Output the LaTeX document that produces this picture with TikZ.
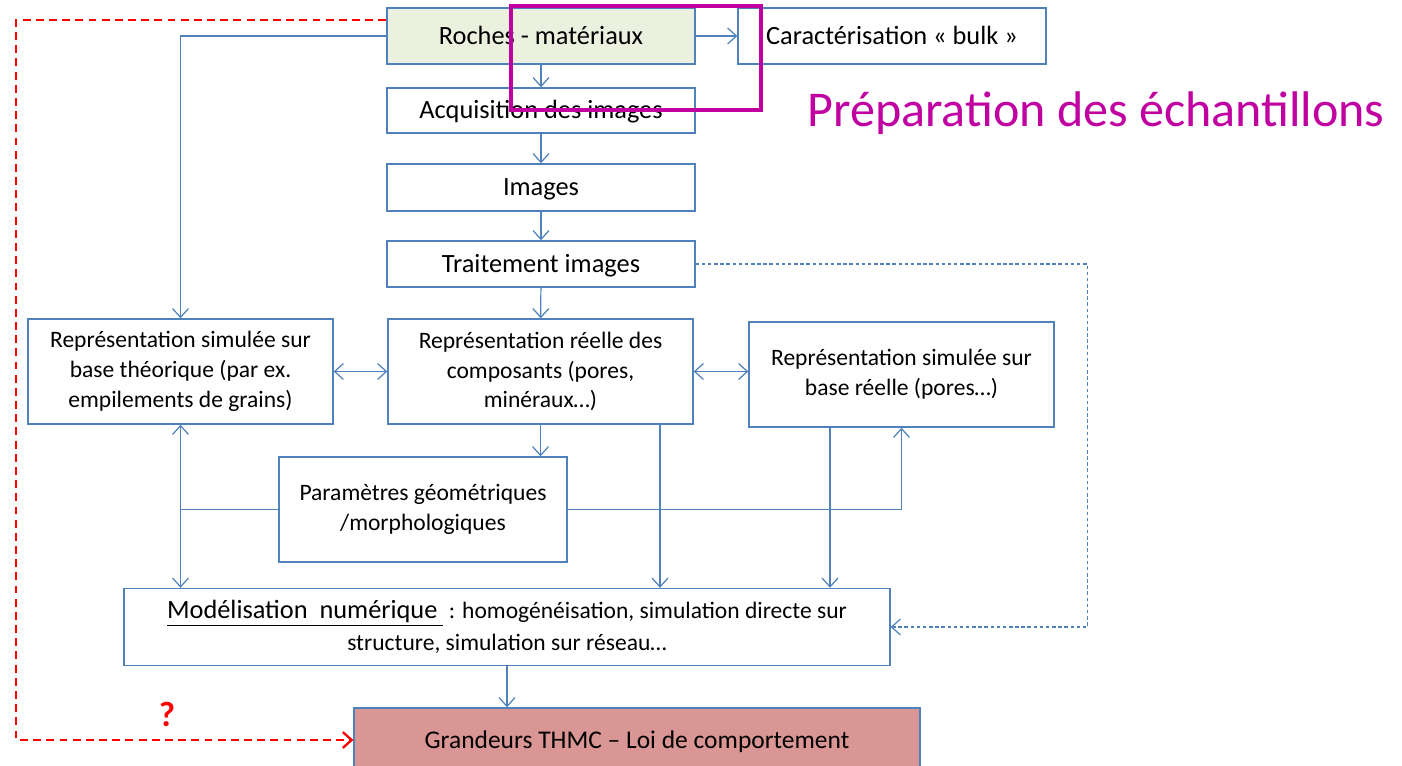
\documentclass[tikz,border=0pt]{standalone}
\usepackage{fontspec}
\setmainfont{Carlito}
\usepackage{xcolor}
\definecolor{flblue}{RGB}{79,129,189}
\definecolor{flgreen}{RGB}{235,241,222}
\definecolor{flpink}{RGB}{217,150,148}
\definecolor{flmagenta}{RGB}{192,0,160}
\definecolor{flred}{RGB}{255,0,0}
\usetikzlibrary{arrows.meta,positioning,calc}
\tikzset{
  basebox/.style={draw=flblue, line width=0.8pt, fill=#1, inner sep=2pt, align=center},
  basebox/.default=white,
  pbox/.style={basebox=#1, font=\fontsize{15}{18}\selectfont, minimum width=6.16cm,
               text height=13pt, text depth=3.5pt},
  pbox/.default=white,
  rbox/.style={basebox, font=\fontsize{13.4}{17}\selectfont,
               minimum width=6.1cm, minimum height=2.1cm},
  flowline/.style={draw=flblue, line width=0.7pt},
  flow/.style={flowline, -{Straight Barb[length=5pt,width=9pt]}},
  flowboth/.style={flowline, {Straight Barb[length=5pt,width=9pt]}-{Straight Barb[length=5pt,width=9pt]}},
  flowdash/.style={flow, dash pattern=on 2pt off 1.5pt},
  redflow/.style={draw=flred, line width=1.3pt, dash pattern=on 4.5pt off 3pt,
                  -{Straight Barb[length=5pt,width=9pt]}},
}

\begin{document}
\begin{tikzpicture}[x=0.02cm, y=-0.02cm]
\useasboundingbox (0,0) rectangle (1402,766);

% Preparation chain
\node[pbox=flgreen, minimum height=1.12cm] (roches) at (541,36) {Roches - matériaux};
\node[pbox, minimum height=1.12cm] (bulk) at (892,36) {Caractérisation «~bulk~»};
\node[pbox, minimum height=0.9cm] (acq) at (541,110.5) {Acquisition des images};
\node[pbox, minimum height=0.94cm] (img) at (541,187.5) {Images};
\node[pbox, minimum height=0.92cm] (trait) at (541,264) {Traitement images};

% Representations
\node[rbox] (theo) at (180.5,371.5) {Représentation simulée sur\\base théorique (par ex.\\empilements de grains)};
\node[rbox] (reel) at (540.5,371.5) {Représentation réelle des\\composants (pores,\\minéraux…)};
\node[rbox] (simr) at (901.5,374.5) {Représentation simulée sur\\base réelle (pores…)};
\node[rbox, minimum width=5.76cm] (param) at (423,509.5) {Paramètres géométriques\\/morphologiques};

% Modelling and results
\node[rbox, minimum width=15.32cm, minimum height=1.54cm, font=\fontsize{13.4}{18}\selectfont] (model) at (507,627)
  {{\fontsize{15}{18}\selectfont\underline{Modélisation~~numérique~}}~: homogénéisation, simulation directe sur\\structure, simulation sur réseau…};
\node[pbox=flpink, minimum width=11.32cm, minimum height=1.28cm, font=\fontsize{14.5}{18}\selectfont] (grand) at (637,740)
  {Grandeurs THMC – Loi de comportement};

% Highlight
\draw[flmagenta, line width=2.8pt] (511,6) rectangle (761,110);
\node[font=\fontsize{28.5}{32}\selectfont, text=flmagenta] (prep) at (1096,113) {Préparation des échantillons};

% Connectors
\draw[flow] (roches) -- (bulk);
\draw[flow] (roches) -- (acq);
\draw[flow] (acq) -- (img);
\draw[flow] (img) -- (trait);
\draw[flow] (trait) -- (reel);
\draw[flow] (roches.west) -| (theo.north);
\draw[flowboth] (theo) -- (reel);
\draw[flowboth] (reel.east) -- (reel.east -| simr.west);
\draw[flow] (reel.south) -- (reel.south |- param.north);
\draw[flow] ([xshift=2.39cm]reel.south) -- ([xshift=2.39cm]reel.south |- model.north);
\draw[flow] ([xshift=-1.43cm]simr.south) -- ([xshift=-1.43cm]simr.south |- model.north);
\coordinate (pleft) at (param.west -| theo.south);
\draw[flowline] (param.west) -- (pleft);
\draw[flow] (pleft) -- (theo.south);
\draw[flow] (pleft) -- (pleft |- model.north);
\draw[flow] (param.east) -| (simr.south);
\draw[flowdash] (trait.east) -- ++(392,0) |- (model.east);
\draw[flow] (model) -- (model.south |- grand.north);

% Direct link
\draw[redflow] ([yshift=0.32cm]roches.west) -- ++(-370,0) |- (grand.west);
\node[font=\fontsize{20}{22}\selectfont\bfseries, text=flred] (quest) at (167,714) {?};

\end{tikzpicture}
\end{document}
